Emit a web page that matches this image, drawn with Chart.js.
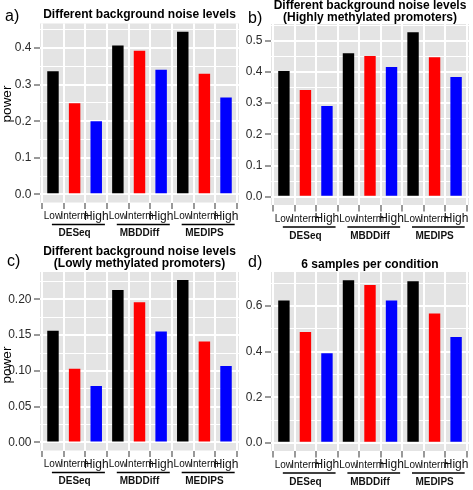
<!DOCTYPE html>
<html><head><meta charset="utf-8">
<script src="https://cdn.jsdelivr.net/npm/chart.js@4.4.1/dist/chart.umd.min.js"></script>
<style>
html,body{margin:0;padding:0;background:#fff;}
#wrap{position:relative;width:473px;height:490px;overflow:hidden;background:#fff;}
canvas{position:absolute;}
.lab{position:absolute;font-family:'Liberation Sans',Arial,sans-serif;font-size:16px;line-height:16px;color:#000;}
.ytl{position:absolute;width:40px;height:14px;line-height:14px;text-align:center;font-family:'Liberation Sans',Arial,sans-serif;font-size:13.5px;color:#000;transform:rotate(-90deg);}
</style></head><body>
<div id="wrap">
<canvas id="ca" width="242" height="245" style="left:0px;top:0px"></canvas>
<canvas id="cb" width="237" height="245" style="left:236px;top:0px"></canvas>
<canvas id="cc" width="242" height="245" style="left:0px;top:245px"></canvas>
<canvas id="cd" width="237" height="245" style="left:236px;top:245px"></canvas>
<div class="lab" style="left:5px;top:8px">a)</div>
<div class="lab" style="left:248px;top:10px">b)</div>
<div class="lab" style="left:7px;top:253px">c)</div>
<div class="lab" style="left:248px;top:254px">d)</div>
<div class="ytl" id="ytA" style="left:-13.5px;top:97px"></div>
<div class="ytl" id="ytC" style="left:-13.5px;top:358px"></div>
</div>
<script>
// ---- data ----
const methods = ['DESeq', 'MBDDiff', 'MEDIPS'];
const categories = ['Low', 'Interm', 'High', 'Low', 'Interm', 'High', 'Low', 'Interm', 'High'];
const barColors = ['#000000', '#ff0000', '#0000ff'];

const powerA = [0.337, 0.249, 0.200, 0.407, 0.393, 0.341, 0.445, 0.330, 0.265];
const powerB = [0.403, 0.342, 0.291, 0.460, 0.451, 0.416, 0.527, 0.447, 0.384];
const powerC = [0.156, 0.103, 0.079, 0.213, 0.196, 0.155, 0.227, 0.141, 0.107];
const powerD = [0.625, 0.486, 0.393, 0.714, 0.693, 0.625, 0.709, 0.568, 0.464];

const ticksA = [0, 0.1, 0.2, 0.3, 0.4];
const labelsA = ['0.0', '0.1', '0.2', '0.3', '0.4'];
const ticksB = [0, 0.1, 0.2, 0.3, 0.4, 0.5];
const labelsB = ['0.0', '0.1', '0.2', '0.3', '0.4', '0.5'];
const ticksC = [0, 0.05, 0.10, 0.15, 0.20];
const labelsC = ['0.00', '0.05', '0.10', '0.15', '0.20'];
const ticksD = [0, 0.2, 0.4, 0.6];
const labelsD = ['0.0', '0.2', '0.4', '0.6'];

const titleA = ['Different background noise levels'];
const titleB = ['Different background noise levels', '(Highly methylated promoters)'];
const titleC = ['Different background noise levels', '(Lowly methylated promoters)'];
const titleD = ['6 samples per condition'];
const yTitle = 'power';

document.getElementById('ytA').textContent = yTitle;
document.getElementById('ytC').textContent = yTitle;

// ---- rendering ----
const SANS = "'Liberation Sans', Arial, Helvetica, sans-serif";
const NARROW = "'Liberation Sans Narrow', 'Arial Narrow', 'Liberation Sans', Arial, sans-serif";

const panelBg = {
  id: 'panelBg',
  beforeDraw(chart) {
    const a = chart.chartArea, ctx = chart.ctx;
    ctx.save();
    ctx.fillStyle = '#e4e4e4';
    ctx.fillRect(a.left, a.top, a.right - a.left, a.bottom - a.top);
    ctx.restore();
  }
};

const groupAxis = {
  id: 'groupAxis',
  afterDraw(chart) {
    const x = chart.scales.x, ctx = chart.ctx;
    ctx.save();
    methods.forEach((m, g) => {
      const x0 = x.getPixelForValue(g * 3 + 1 - 0.05);
      const x1 = x.getPixelForValue(g * 3 + 3 + 0.4);
      const yl = x.top + 22;
      ctx.strokeStyle = '#000';
      ctx.lineWidth = 1.6;
      ctx.beginPath();
      ctx.moveTo(x0, yl);
      ctx.lineTo(x1, yl);
      ctx.stroke();
      ctx.fillStyle = '#111';
      ctx.font = 'bold 10px ' + NARROW;
      ctx.textAlign = 'center';
      ctx.textBaseline = 'middle';
      ctx.fillText(m, x.getPixelForValue(g * 3 + 2), x.top + 31);
    });
    ctx.restore();
  }
};

function makePanel(id, values, majors, majorLabels, title, cfg) {
  const maxV = Math.max(...values);
  const yMin = -0.05 * maxV, yMax = 1.05 * maxV;
  const step = majors[1] - majors[0];
  const allTicks = [];
  majors.forEach(v => {
    allTicks.push({ value: v, minor: false });
    if (v + step / 2 <= yMax) allTicks.push({ value: v + step / 2, minor: true });
  });

  new Chart(document.getElementById(id), {
    type: 'bar',
    data: {
      datasets: [{
        data: values.map((v, i) => ({ x: i + 1, y: v })),
        backgroundColor: values.map((v, i) => barColors[i % 3]),
        borderWidth: 0,
        barPercentage: 1,
        categoryPercentage: 0.53
      }]
    },
    options: {
      responsive: false,
      animation: false,
      events: [],
      layout: { padding: { left: 0, right: cfg.padRight, top: 0, bottom: 0 } },
      plugins: {
        legend: { display: false },
        tooltip: { enabled: false },
        title: {
          display: true,
          text: title,
          fullSize: false,
          color: '#000',
          font: { family: SANS, size: 12, weight: 'bold', lineHeight: cfg.titleLH },
          padding: { top: cfg.titleTop, bottom: cfg.titleBottom }
        }
      },
      scales: {
        x: {
          type: 'linear',
          min: 0.4, max: 9.6,
          offset: false,
          afterBuildTicks(s) { s.ticks = categories.map((c, i) => ({ value: i + 1 })); },
          afterFit(s) { s.height = cfg.xHeight; },
          border: { display: false },
          grid: { color: '#ffffff', lineWidth: 2, drawTicks: true, tickLength: 6.5, tickColor: '#808080', tickWidth: 1.6 },
          ticks: {
            autoSkip: false, maxRotation: 0, minRotation: 0, padding: 1.5,
            color: '#111',
            font: c => ({ family: NARROW, size: (c.index % 3 === 2) ? 12 : 10, lineHeight: '12px' }),
            callback: (v, i) => categories[i]
          }
        },
        y: {
          type: 'linear',
          min: yMin, max: yMax,
          afterBuildTicks(s) { s.ticks = allTicks.map(t => ({ value: t.value, minor: t.minor })); },
          afterFit(s) { s.width = cfg.yWidth; },
          border: { display: false },
          grid: {
            color: '#ffffff',
            lineWidth: c => (c.tick && c.tick.minor) ? 1 : 2,
            drawTicks: true, tickLength: 6,
            tickColor: c => (c.tick && c.tick.minor) ? 'rgba(0,0,0,0)' : '#808080',
            tickWidth: 1.6
          },
          ticks: {
            autoSkip: false, padding: 2.5,
            color: '#2b2b2b',
            font: { family: SANS, size: 12 },
            callback: (v, i, ts) => {
              if (ts[i].minor) return '';
              const k = majors.findIndex(m => Math.abs(m - v) < 1e-9);
              return k >= 0 ? majorLabels[k] : '';
            }
          }
        }
      }
    },
    plugins: [panelBg, groupAxis]
  });
}

makePanel('ca', powerA, ticksA, labelsA, titleA,
  { padRight: 3, yWidth: 40, xHeight: 42.5, titleLH: 1.2, titleTop: 7.8, titleBottom: 1.3 });
makePanel('cb', powerB, ticksB, labelsB, titleB,
  { padRight: 4, yWidth: 35, xHeight: 40, titleLH: '12px', titleTop: 0, titleBottom: 0 });
makePanel('cc', powerC, ticksC, labelsC, titleC,
  { padRight: 3, yWidth: 40, xHeight: 39.5, titleLH: '12px', titleTop: 1, titleBottom: 2 });
makePanel('cd', powerD, ticksD, labelsD, titleD,
  { padRight: 4, yWidth: 35, xHeight: 39, titleLH: 1.2, titleTop: 12.6, titleBottom: 0 });
</script>
</body></html>
